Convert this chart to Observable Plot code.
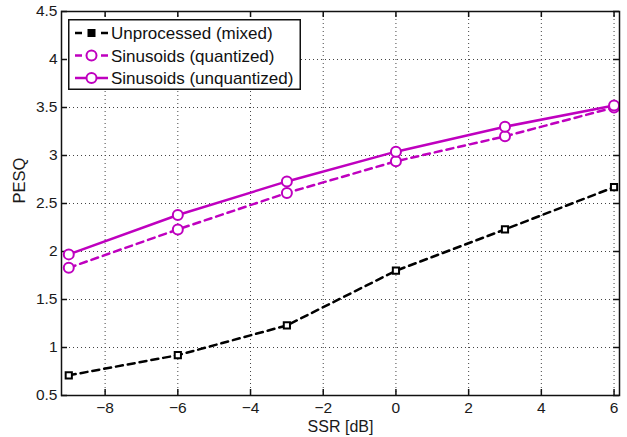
<!DOCTYPE html>
<html>
<head>
<meta charset="utf-8">
<script src="https://cdn.jsdelivr.net/npm/d3@7"></script>
<script src="https://cdn.jsdelivr.net/npm/@observablehq/plot@0.6"></script>
<style>
  html, body { margin: 0; padding: 0; background: #fff; }
  #wrap { position: relative; width: 627px; height: 437px; }
  #legend { position: absolute; left: 68px; top: 19px; }
</style>
</head>
<body>
<div id="wrap"></div>
<script>
// ---- data ----
const ssr = [-9, -6, -3, 0, 3, 6];
const unprocessed = [0.71, 0.92, 1.23, 1.80, 2.23, 2.67];
const quantized = [1.83, 2.23, 2.61, 2.94, 3.20, 3.50];
const unquantized = [1.97, 2.38, 2.73, 3.04, 3.30, 3.52];
const seriesNames = ["Unprocessed (mixed)", "Sinusoids (quantized)", "Sinusoids (unquantized)"];
const xTicks = [-8, -6, -4, -2, 0, 2, 4, 6];
const yTicks = [0.5, 1, 1.5, 2, 2.5, 3, 3.5, 4, 4.5];
const xLabel = "SSR [dB]";
const yLabel = "PESQ";
const xDomain = [-9.2, 6.15];
const yDomain = [0.5, 4.5];

const MAG = "#bf00bf";
const FONT = "Liberation Sans, Arial, sans-serif";
const styles = [
  {stroke: "black", dash: "7,5", symbol: "square", r: 3.5, width: 2.5},
  {stroke: MAG, dash: "7,5", symbol: "circle", r: 5, width: 2.5},
  {stroke: MAG, dash: null, symbol: "circle", r: 5, width: 2.5}
];
const values = [unprocessed, quantized, unquantized];

const rows = [];
values.forEach((arr, s) => arr.forEach((v, i) => rows.push({series: seriesNames[s], x: ssr[i], y: v, s})));

const width = 627, height = 437;
const mL = 61, mR = 8, mT = 11, mB = 42;
const tickPx = 6;
const kx = (xDomain[1] - xDomain[0]) / (width - mL - mR);
const ky = (yDomain[1] - yDomain[0]) / (height - mT - mB);
const fmt = d => d < 0 ? "\u2212" + Math.abs(d) : String(d);

const marks = [
  // grid
  Plot.ruleX(xTicks, {stroke: "#444", strokeDasharray: "1,3", strokeWidth: 1}),
  Plot.ruleY(yTicks.slice(1, -1), {stroke: "#444", strokeDasharray: "1,3", strokeWidth: 1}),
  // inward ticks
  Plot.ruleX(xTicks, {x: d => d, y1: yDomain[0], y2: yDomain[0] + tickPx * ky, stroke: "#111", strokeWidth: 1.5}),
  Plot.ruleX(xTicks, {x: d => d, y1: yDomain[1], y2: yDomain[1] - tickPx * ky, stroke: "#111", strokeWidth: 1.5}),
  Plot.ruleY(yTicks, {y: d => d, x1: xDomain[0], x2: xDomain[0] + tickPx * kx, stroke: "#111", strokeWidth: 1.5}),
  Plot.ruleY(yTicks, {y: d => d, x1: xDomain[1], x2: xDomain[1] - tickPx * kx, stroke: "#111", strokeWidth: 1.5}),
  // tick labels
  Plot.text(xTicks, {x: d => d, text: fmt, frameAnchor: "bottom", lineAnchor: "middle", dy: 13, fontSize: 15.5, fill: "#1a1a1a"}),
  Plot.text(yTicks, {y: d => d, text: d => String(d), frameAnchor: "left", textAnchor: "end", lineAnchor: "middle", dx: -4, fontSize: 15.5, fill: "#1a1a1a"}),
  // axis titles
  Plot.text([xLabel], {text: d => d, frameAnchor: "bottom", lineAnchor: "middle", dy: 31, fontSize: 16, fill: "#1a1a1a"}),
  Plot.text([yLabel], {text: d => d, frameAnchor: "left", lineAnchor: "middle", rotate: -90, dx: -42, fontSize: 16.5, fill: "#1a1a1a"})
];
styles.forEach((st, s) => {
  const data = rows.filter(d => d.s === s);
  marks.push(Plot.line(data, {x: "x", y: "y", stroke: st.stroke, strokeWidth: st.width, strokeDasharray: st.dash || undefined}));
  marks.push(Plot.dot(data, {x: "x", y: "y", stroke: st.stroke, strokeWidth: 2, fill: "white", symbol: st.symbol, r: st.r}));
});
marks.push(Plot.frame({stroke: "#111", strokeWidth: 1.5}));

const chart = Plot.plot({
  width, height,
  marginLeft: mL, marginRight: mR, marginTop: mT, marginBottom: mB,
  style: {fontFamily: FONT, fontSize: "15px", color: "#1a1a1a", background: "white"},
  x: {domain: xDomain, label: null, axis: null},
  y: {domain: yDomain, label: null, axis: null},
  marks
});
document.getElementById("wrap").appendChild(chart);

// ---- legend (overlay inside the axes) ----
const lw = 233, lh = 71;
const leg = d3.select("#wrap").append("svg")
  .attr("id", "legend").attr("width", lw).attr("height", lh);
leg.append("rect").attr("x", 0.75).attr("y", 0.75).attr("width", lw - 1.5).attr("height", lh - 1.5)
  .attr("fill", "white").attr("stroke", "#111").attr("stroke-width", 1.5);
seriesNames.forEach((name, i) => {
  const st = styles[i];
  const cy = 14 + i * 22.5;
  const g = leg.append("g");
  g.append("line").attr("x1", 7).attr("x2", 40).attr("y1", cy).attr("y2", cy)
    .attr("stroke", st.stroke).attr("stroke-width", 2.5)
    .attr("stroke-dasharray", st.dash ? "7,6" : null);
  if (st.symbol === "square") {
    g.append("rect").attr("x", 23.5 - 4).attr("y", cy - 4).attr("width", 8).attr("height", 8).attr("fill", "black");
  } else {
    g.append("circle").attr("cx", 23.5).attr("cy", cy).attr("r", 5)
      .attr("fill", "white").attr("stroke", st.stroke).attr("stroke-width", 2);
  }
  g.append("text").attr("x", 43).attr("y", cy).attr("dy", "0.36em")
    .attr("font-family", FONT).attr("font-size", 17).attr("fill", "#111")
    .text(name);
});
</script>
</body>
</html>
